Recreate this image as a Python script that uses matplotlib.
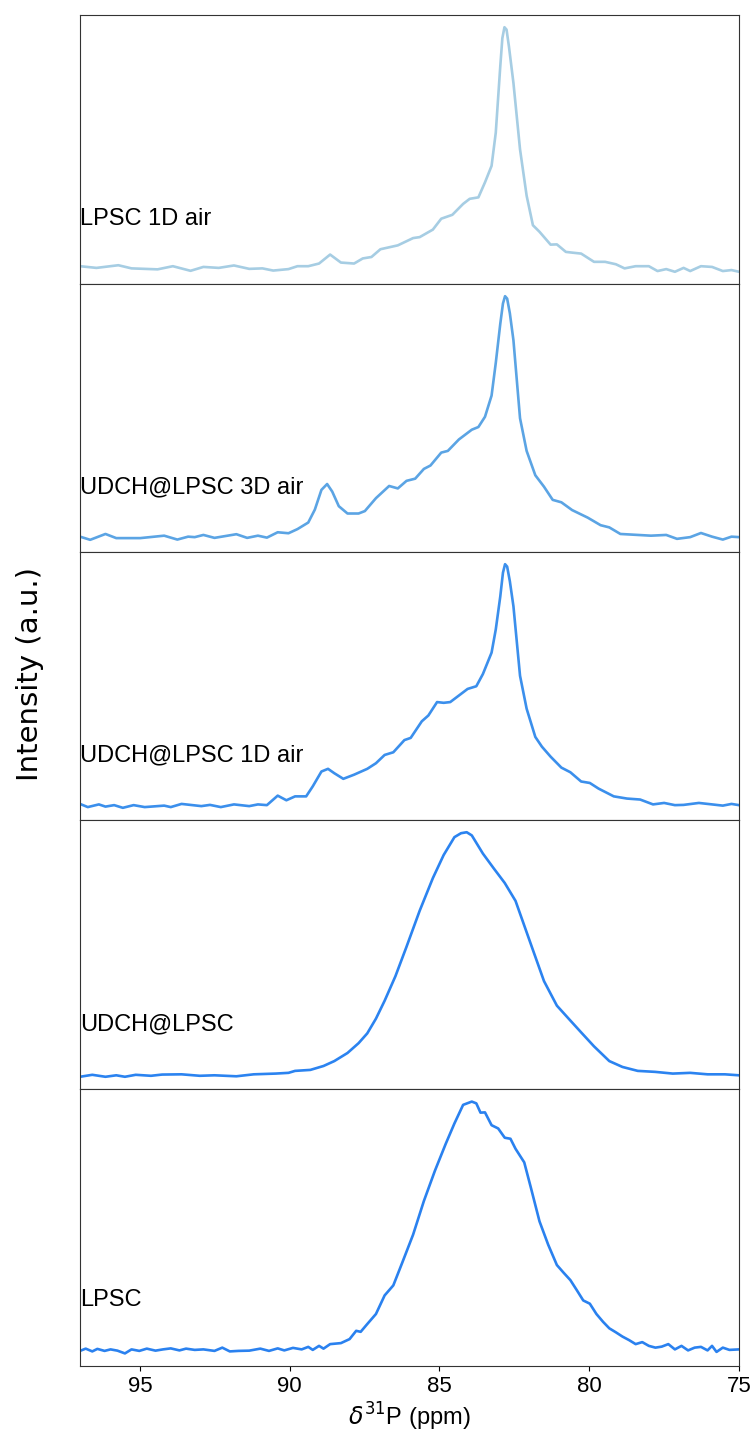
import matplotlib
matplotlib.use("Agg")
import matplotlib.pyplot as plt

# ---------- data (intensity in % of peak) ----------
labels = ["LPSC 1D air", "UDCH@LPSC 3D air", "UDCH@LPSC 1D air", "UDCH@LPSC", "LPSC"]
colors = ["#a6cde3", "#5ba4e4", "#3b8fec", "#2b83f0", "#2a81ef"]

lpsc_1d_air_ppm = [97.0, 96.45, 95.72, 95.28, 94.41, 93.9, 93.31, 92.88, 92.37, 91.86, 91.35,
                   90.91, 90.55, 90.04, 89.74, 89.38, 89.02, 88.65, 88.29, 87.85, 87.56, 87.27,
                   86.97, 86.39, 85.88, 85.66, 85.22, 84.94, 84.57, 84.21, 83.99, 83.70, 83.48,
                   83.26, 83.12, 82.97, 82.90, 82.83, 82.76, 82.68, 82.53, 82.31, 82.09, 81.88,
                   81.66, 81.29, 81.08, 80.78, 80.57, 80.27, 79.84, 79.47, 79.11, 78.82, 78.45,
                   78.01, 77.72, 77.43, 77.14, 76.85, 76.63, 76.27, 75.90, 75.54, 75.25, 75.0]
lpsc_1d_air_int = [1.4, 0.7, 1.8, 0.5, 0.1, 1.4, -0.5, 1.1, 0.7, 1.7, 0.3,
                   0.5, -0.4, 0.2, 1.4, 1.4, 2.5, 6.2, 2.9, 2.5, 4.6, 5.2,
                   8.4, 10.0, 13.0, 13.4, 16.5, 21.0, 22.6, 27.1, 29.2, 29.8, 36.0,
                   42.8, 56.5, 83.8, 95.5, 100.0, 99.0, 92.0, 77.0, 49.6, 30.5, 18.3,
                   15.6, 10.3, 10.4, 7.3, 7.0, 6.6, 3.2, 3.2, 2.2, 0.5, 1.4,
                   1.4, -0.6, 0.2, -0.9, 0.7, -0.6, 1.4, 1.1, -0.6, -0.2, -0.9]

udch_3d_air_ppm = [97.0, 96.66, 96.15, 95.79, 94.99, 94.19, 93.75, 93.39, 93.17, 92.88, 92.51,
                   91.78, 91.42, 91.06, 90.76, 90.40, 90.04, 89.74, 89.38, 89.16, 88.94, 88.75,
                   88.58, 88.36, 88.07, 87.70, 87.49, 87.12, 86.68, 86.39, 86.10, 85.81, 85.52,
                   85.30, 84.94, 84.72, 84.35, 83.92, 83.70, 83.48, 83.26, 83.12, 82.97, 82.88,
                   82.81, 82.74, 82.65, 82.53, 82.31, 82.09, 81.80, 81.51, 81.22, 80.93, 80.57,
                   80.05, 79.62, 79.33, 78.96, 78.52, 77.94, 77.43, 77.07, 76.63, 76.27, 75.90,
                   75.54, 75.25, 75.0]
udch_3d_air_int = [1.3, 0.0, 2.4, 0.7, 0.7, 1.7, 0.1, 1.3, 1.1, 2.0, 0.8,
                   2.3, 0.8, 1.7, 0.9, 3.1, 2.7, 4.4, 7.1, 12.4, 20.5, 22.9,
                   19.8, 13.8, 10.8, 10.8, 11.8, 17.1, 22.1, 21.1, 24.2, 25.1, 29.1,
                   30.5, 35.8, 36.5, 41.2, 45.2, 46.3, 50.5, 59.2, 72.6, 88.6, 97.0,
                   100.0, 99.0, 93.0, 81.9, 49.9, 36.5, 26.5, 21.8, 16.4, 15.4, 12.2,
                   9.1, 6.0, 5.1, 2.4, 2.1, 1.7, 2.0, 0.4, 1.1, 2.8, 1.3,
                   0.1, 1.3, 1.1]

udch_1d_air_ppm = [97.0, 96.74, 96.37, 96.15, 95.86, 95.57, 95.21, 94.84, 94.19, 93.97, 93.61,
                   92.95, 92.66, 92.30, 91.86, 91.35, 91.06, 90.76, 90.40, 90.11, 89.82, 89.45,
                   89.23, 88.94, 88.72, 88.51, 88.21, 87.85, 87.41, 87.12, 86.83, 86.54, 86.17,
                   85.96, 85.59, 85.37, 85.08, 84.86, 84.64, 84.35, 84.06, 83.77, 83.55, 83.26,
                   83.12, 82.97, 82.88, 82.81, 82.74, 82.65, 82.53, 82.31, 82.09, 81.80, 81.58,
                   81.29, 80.93, 80.63, 80.27, 79.98, 79.69, 79.18, 78.74, 78.30, 77.87, 77.50,
                   77.14, 76.85, 76.34, 75.90, 75.54, 75.25, 75.0]
udch_1d_air_int = [1.6, 0.3, 1.4, 0.5, 1.1, 0.0, 1.1, 0.3, 0.9, 0.3, 1.6,
                   0.7, 1.2, 0.3, 1.4, 0.7, 1.4, 1.1, 5.0, 3.1, 4.7, 4.7,
                   8.8, 14.9, 16.0, 14.2, 11.9, 13.6, 16.0, 18.3, 21.7, 22.8, 27.8,
                   28.7, 35.5, 37.9, 43.4, 43.1, 43.4, 46.1, 48.8, 49.9, 54.9, 63.7,
                   73.2, 86.7, 96.5, 100.0, 99.0, 93.0, 82.7, 54.2, 40.7, 29.1, 25.1,
                   21.0, 16.5, 14.6, 10.8, 10.2, 7.9, 4.7, 3.8, 3.4, 1.4, 2.0,
                   1.1, 1.2, 2.0, 1.4, 0.9, 1.6, 1.1]

udch_ppm = [97.0, 96.59, 96.15, 95.79, 95.50, 95.14, 94.63, 94.26, 93.61, 93.0, 92.51,
            91.78, 91.20, 90.47, 90.04, 89.82, 89.31, 88.87, 88.51, 88.07, 87.70, 87.41,
            87.12, 86.83, 86.47, 86.10, 85.66, 85.22, 84.86, 84.50, 84.28, 84.09, 83.92,
            83.55, 83.19, 82.82, 82.46, 82.17, 81.88, 81.51, 81.08, 80.71, 80.27, 79.84,
            79.33, 78.89, 78.38, 77.80, 77.21, 76.63, 76.05, 75.47, 75.0]
udch_int = [0.3, 1.1, 0.3, 0.9, 0.3, 1.1, 0.7, 1.2, 1.3, 0.7, 0.9,
            0.5, 1.3, 1.6, 1.9, 2.7, 3.1, 4.7, 6.7, 10.0, 14.0, 18.0,
            24.0, 31.3, 41.3, 53.3, 68.0, 81.3, 90.7, 98.0, 99.6, 100.0, 98.7,
            91.3, 85.3, 79.3, 72.0, 62.0, 52.0, 39.3, 29.3, 24.3, 18.4, 12.7,
            6.7, 4.3, 2.7, 2.3, 1.6, 1.9, 1.3, 1.3, 0.9]

lpsc_ppm = [97.0, 96.81, 96.59, 96.42, 96.18, 95.98, 95.75, 95.50, 95.28, 95.02, 94.77,
            94.48, 94.23, 93.97, 93.68, 93.46, 93.17, 92.88, 92.51, 92.25, 92.0, 91.71,
            91.35, 90.98, 90.69, 90.40, 90.18, 89.89, 89.60, 89.38, 89.23, 89.02, 88.87,
            88.65, 88.29, 88.0, 87.78, 87.63, 87.41, 87.12, 86.83, 86.54, 86.25, 85.88,
            85.52, 85.15, 84.79, 84.50, 84.21, 83.92, 83.77, 83.63, 83.48, 83.26, 83.04,
            82.82, 82.63, 82.46, 82.17, 81.95, 81.66, 81.37, 81.08, 80.86, 80.63, 80.41,
            80.20, 79.98, 79.76, 79.54, 79.33, 79.11, 78.89, 78.67, 78.45, 78.23, 78.01,
            77.79, 77.58, 77.36, 77.14, 76.92, 76.70, 76.48, 76.27, 76.05, 75.90, 75.75,
            75.54, 75.32, 75.0]
lpsc_int = [0.7, 1.6, 0.5, 1.5, 0.7, 1.3, 0.8, -0.3, 1.3, 0.7, 1.6,
            0.8, 1.3, 1.7, 0.9, 1.6, 1.1, 1.3, 0.7, 2.0, 0.5, 0.7,
            0.8, 1.6, 0.7, 1.7, 0.9, 1.9, 1.3, 2.3, 1.1, 2.7, 1.6,
            3.4, 3.8, 5.4, 8.7, 8.3, 11.4, 15.4, 22.8, 26.8, 35.6, 47.0,
            60.4, 72.5, 83.2, 91.3, 98.7, 100.0, 99.3, 95.6, 95.7, 90.6, 89.3,
            85.6, 85.2, 81.2, 75.8, 65.8, 52.3, 43.0, 34.9, 31.9, 28.9, 24.8,
            20.8, 19.5, 15.4, 12.3, 9.7, 8.1, 6.4, 5.0, 3.4, 4.2, 2.7,
            2.0, 2.4, 3.4, 1.3, 2.7, 0.9, 2.0, 2.3, 0.9, 2.7, 0.3,
            2.0, 1.1, 1.3]

spectra = [(lpsc_1d_air_ppm, lpsc_1d_air_int),
           (udch_3d_air_ppm, udch_3d_air_int),
           (udch_1d_air_ppm, udch_1d_air_int),
           (udch_ppm, udch_int),
           (lpsc_ppm, lpsc_int)]

# ---------- plot ----------
SANS = ["Liberation Sans", "DejaVu Sans"]

fig, axes = plt.subplots(5, 1, figsize=(7.55, 14.35), dpi=100, sharex=True,
                         gridspec_kw={"height_ratios": [269, 268, 268, 269, 277]})
fig.subplots_adjust(left=80/755, right=739/755, top=1-15/1435, bottom=1-1366/1435, hspace=0)

for ax, (x, y), lab, c in zip(axes, spectra, labels, colors):
    ax.plot(x, y, color=c, lw=1.9, solid_joinstyle="round")
    ax.set_xlim(97, 75)
    ax.set_yticks([])
    ax.text(0.0, 0.24, lab, transform=ax.transAxes, ha="left", va="center",
            fontsize=17, family=SANS)
    for s in ax.spines.values():
        s.set_color("#333333")

for ax in axes[:-1]:
    ax.tick_params(axis="x", bottom=False, labelbottom=False)

axb = axes[-1]
axb.set_xticks([95, 90, 85, 80, 75])
for t in axb.get_xticklabels():
    t.set_family(SANS)
    t.set_fontsize(16)
axb.set_xlabel(r"$\delta^{31}$P (ppm)", fontsize=17, family=SANS, labelpad=3)

fig.text(30/755, 1-674/1435, "Intensity (a.u.)", rotation=90, ha="center", va="center",
         fontsize=21, family="DejaVu Sans")

fig.savefig("out.png", dpi=100)
